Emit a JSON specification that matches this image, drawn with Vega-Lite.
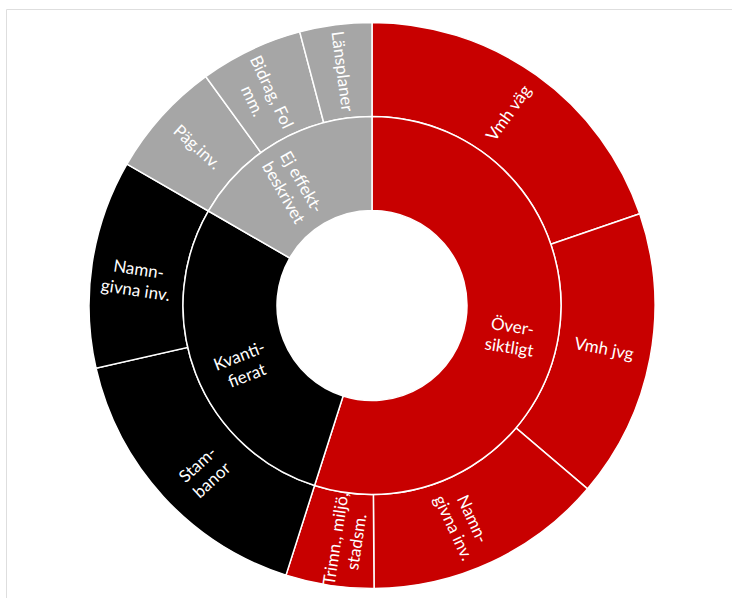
{
  "$schema": "https://vega.github.io/schema/vega-lite/v6.json",
  "autosize": "none",
  "padding": {"left": 6, "top": 9, "right": 0, "bottom": 0},
  "width": 732,
  "height": 593,
  "background": "white",
  "view": {"stroke": "#dedede", "strokeWidth": 1},
  "datasets": {
    "sun": [
      {"group": "Översiktligt", "groupLabel": "Över-\nsiktligt", "label": "Vmh väg", "value": 19.75},
      {"group": "Översiktligt", "groupLabel": "Över-\nsiktligt", "label": "Vmh jvg", "value": 16.47},
      {"group": "Översiktligt", "groupLabel": "Över-\nsiktligt", "label": "Namn-\ngivna inv.", "value": 13.67},
      {"group": "Översiktligt", "groupLabel": "Över-\nsiktligt", "label": "Trimn., miljö,\nstadsm.", "value": 5.03},
      {"group": "Kvantifierat", "groupLabel": "Kvanti-\nfierat", "label": "Stam-\nbanor", "value": 16.53},
      {"group": "Kvantifierat", "groupLabel": "Kvanti-\nfierat", "label": "Namn-\ngivna inv.", "value": 11.89},
      {"group": "Ej effekt beskrivet", "groupLabel": "Ej effekt-\nbeskrivet", "label": "Päg.inv.", "value": 6.67},
      {"group": "Ej effekt beskrivet", "groupLabel": "Ej effekt-\nbeskrivet", "label": "Bidrag, Fol\nmm.", "value": 5.89},
      {"group": "Ej effekt beskrivet", "groupLabel": "Ej effekt-\nbeskrivet", "label": "Länsplaner", "value": 4.11}
    ]
  },
  "data": {"name": "sun"},
  "transform": [{"window": [{"op": "row_number", "as": "idx"}]}],
  "layer": [
    {
      "mark": {"type": "arc", "outerRadius": 283, "innerRadius": 189, "stroke": "white", "strokeWidth": 1.5},
      "encoding": {
        "theta": {"field": "value", "type": "quantitative", "stack": true},
        "order": {"field": "idx", "type": "quantitative"},
        "color": {"field": "group", "type": "nominal", "legend": null,
          "scale": {"domain": ["Översiktligt", "Kvantifierat", "Ej effekt beskrivet"], "range": ["#C80000", "#000000", "#A6A6A6"]}}
      }
    },
    {
      "transform": [
        {"aggregate": [{"op": "sum", "field": "value", "as": "value"}, {"op": "min", "field": "idx", "as": "idx"}], "groupby": ["group", "groupLabel"]}
      ],
      "mark": {"type": "arc", "outerRadius": 189, "innerRadius": 95, "stroke": "white", "strokeWidth": 1.5},
      "encoding": {
        "theta": {"field": "value", "type": "quantitative", "stack": true},
        "order": {"field": "idx", "type": "quantitative"},
        "color": {"field": "group", "type": "nominal", "legend": null,
          "scale": {"domain": ["Översiktligt", "Kvantifierat", "Ej effekt beskrivet"], "range": ["#C80000", "#000000", "#A6A6A6"]}}
      }
    },
    {
      "transform": [
        {"window": [{"op": "sum", "field": "value", "as": "cum"}], "sort": [{"field": "idx"}], "frame": [null, 0]},
        {"joinaggregate": [{"op": "sum", "field": "value", "as": "total"}]},
        {"calculate": "((datum.cum - datum.value / 2) / datum.total) * 360 - 90", "as": "r0"},
        {"calculate": "datum.r0 > 90 ? datum.r0 - 180 : datum.r0", "as": "rot"}
      ],
      "mark": {"type": "text", "radius": 236, "color": "white", "font": "Lato", "fontSize": 17, "lineBreak": "\n", "align": "center", "baseline": "middle", "lineHeight": 21},
      "encoding": {
        "theta": {"field": "value", "type": "quantitative", "stack": true},
        "order": {"field": "idx", "type": "quantitative"},
        "text": {"field": "label"},
        "angle": {"field": "rot", "type": "quantitative", "scale": null}
      }
    },
    {
      "transform": [
        {"aggregate": [{"op": "sum", "field": "value", "as": "value"}, {"op": "min", "field": "idx", "as": "idx"}], "groupby": ["group", "groupLabel"]},
        {"window": [{"op": "sum", "field": "value", "as": "cum"}], "sort": [{"field": "idx"}], "frame": [null, 0]},
        {"joinaggregate": [{"op": "sum", "field": "value", "as": "total"}]},
        {"calculate": "((datum.cum - datum.value / 2) / datum.total) * 360 - 90", "as": "r0"},
        {"calculate": "datum.r0 > 90 ? datum.r0 - 180 : datum.r0", "as": "rot"}
      ],
      "mark": {"type": "text", "radius": 142, "color": "white", "font": "Lato", "fontSize": 17, "lineBreak": "\n", "align": "center", "baseline": "middle", "lineHeight": 21},
      "encoding": {
        "theta": {"field": "value", "type": "quantitative", "stack": true},
        "order": {"field": "idx", "type": "quantitative"},
        "text": {"field": "groupLabel"},
        "angle": {"field": "rot", "type": "quantitative", "scale": null}
      }
    }
  ]
}
